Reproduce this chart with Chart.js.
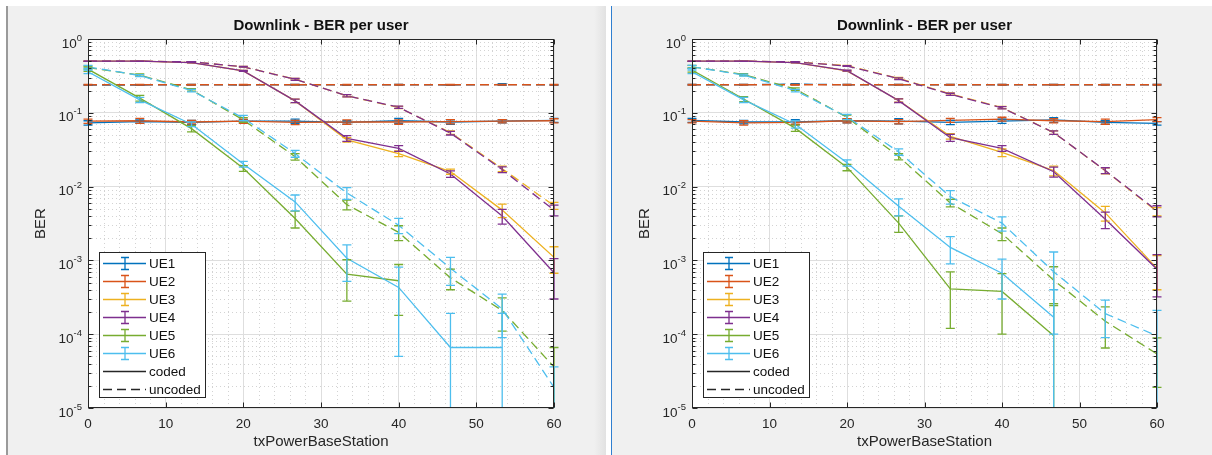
<!DOCTYPE html>
<html>
<head>
<meta charset="utf-8">
<script src="https://cdn.jsdelivr.net/npm/chart.js@4.4.1/dist/chart.umd.min.js"></script>
<style>
  body { margin: 0; width: 1212px; height: 455px; background: #fff; position: relative; overflow: hidden; }
  .panel { position: absolute; top: 6px; height: 449px; background: #f0f0f0; }
  #panelL { left: 8px; width: 598px; background: linear-gradient(to right, #f0f0f0 0, #f0f0f0 586px, #e2e2e2 598px); }
  #panelR { left: 612px; width: 600px; }
  #edgeL { position: absolute; left: 6px; top: 6px; width: 2px; height: 449px; background: #9a9a9a; }
  #sep { position: absolute; left: 611px; top: 6px; width: 1px; height: 449px; background: #2f7fd0; }
  canvas { position: absolute; top: 0; }
  #chartL { left: 0; }
  #chartR { left: 606px; }
</style>
</head>
<body>
<div class="panel" id="panelL"></div>
<div class="panel" id="panelR"></div>
<div id="edgeL"></div>
<div id="sep"></div>
<canvas id="chartL" width="606" height="455"></canvas>
<canvas id="chartR" width="606" height="455"></canvas>
<script>
// x positions (txPowerBaseStation)
const txPower = [0, 6.67, 13.33, 20, 26.67, 33.33, 40, 46.67, 53.33, 60];
const users = ['UE1', 'UE2', 'UE3', 'UE4', 'UE5', 'UE6'];
const userColors = ['#0072BD', '#D95319', '#EDB120', '#7E2F8E', '#77AC30', '#4DBEEE'];
const xTickValues = [0, 10, 20, 30, 40, 50, 60];
const yTickValues = [1e-5, 1e-4, 1e-3, 1e-2, 1e-1, 1];
const yTickBase = '10';
const yTickExponents = ['-5', '-4', '-3', '-2', '-1', '0'];
const yMinorSteps = [2, 3, 4, 5, 6, 7, 8, 9];
const xMinorValues = [2, 4, 6, 8, 12, 14, 16, 18, 22, 24, 26, 28, 32, 34, 36, 38, 42, 44, 46, 48, 52, 54, 56, 58];

// left figure - one row per user (UE1..UE6), null = BER of zero
const leftCoded = [
  [0.073, 0.076, 0.074, 0.077, 0.077, 0.074, 0.078, 0.075, 0.077, 0.079],
  [0.077, 0.078, 0.075, 0.077, 0.074, 0.075, 0.075, 0.076, 0.077, 0.078],
  [0.5, 0.5, 0.48, 0.37, 0.145, 0.043, 0.028, 0.016, 0.0048, 0.0011],
  [0.5, 0.5, 0.48, 0.37, 0.145, 0.045, 0.033, 0.0148, 0.004, 0.00068],
  [0.39, 0.158, 0.061, 0.0177, 0.0037, 0.00065, 0.00053, null, null, null],
  [0.36, 0.15, 0.07, 0.0202, 0.0062, 0.00107, 0.00043, 0.000066, 0.000066, null]
];
const leftCodedErr = [
  [0.005, 0.004, 0.005, 0.004, 0.005, 0.004, 0.006, 0.005, 0.004, 0.005],
  [0.005, 0.006, 0.004, 0.005, 0.005, 0.005, 0.005, 0.005, 0.004, 0.005],
  [0.002, 0.002, 0.003, 0.005, 0.008, 0.003, 0.0025, 0.0013, 0.001, 0.00043],
  [0.002, 0.002, 0.003, 0.005, 0.008, 0.004, 0.003, 0.0015, 0.0009, 0.00038],
  [0.025, 0.014, 0.006, 0.0016, 0.00095, 0.00037, 0.00035, null, null, null],
  [0.02, 0.012, 0.005, 0.0018, 0.0015, 0.00055, 0.00038, 0.000125, 0.000125, null]
];
const leftUncoded = [
  [0.238, 0.238, 0.24, 0.238, 0.24, 0.238, 0.24, 0.238, 0.242, 0.238],
  [0.24, 0.24, 0.24, 0.24, 0.24, 0.24, 0.24, 0.24, 0.24, 0.24],
  [0.5, 0.5, 0.49, 0.42, 0.285, 0.17, 0.118, 0.054, 0.0175, 0.0055],
  [0.5, 0.5, 0.49, 0.42, 0.284, 0.17, 0.119, 0.053, 0.017, 0.0048],
  [0.41, 0.325, 0.205, 0.08, 0.0254, 0.0057, 0.0024, 0.00058, 0.00021, 0.000036],
  [0.42, 0.32, 0.2, 0.085, 0.028, 0.0082, 0.003, 0.00078, 0.00022, 0.000019]
];
const leftUncodedErr = [
  [0.003, 0.003, 0.003, 0.003, 0.003, 0.003, 0.003, 0.003, 0.006, 0.003],
  [0.003, 0.003, 0.003, 0.003, 0.003, 0.003, 0.003, 0.003, 0.003, 0.003],
  [0.002, 0.002, 0.003, 0.005, 0.008, 0.006, 0.004, 0.003, 0.0015, 0.0006],
  [0.002, 0.002, 0.003, 0.005, 0.008, 0.006, 0.004, 0.003, 0.0015, 0.0008],
  [0.02, 0.012, 0.008, 0.006, 0.0025, 0.00085, 0.00055, 0.00018, 0.0001, 0.00003],
  [0.02, 0.01, 0.008, 0.007, 0.003, 0.0015, 0.0007, 0.00032, 0.00013, 0.000017]
];

// right figure
const rightCoded = [
  [0.079, 0.075, 0.075, 0.078, 0.077, 0.074, 0.077, 0.08, 0.074, 0.072],
  [0.077, 0.073, 0.074, 0.078, 0.076, 0.079, 0.082, 0.078, 0.076, 0.081],
  [0.5, 0.5, 0.48, 0.37, 0.147, 0.048, 0.029, 0.0165, 0.0044, 0.00078],
  [0.5, 0.5, 0.48, 0.372, 0.146, 0.046, 0.033, 0.0159, 0.0036, 0.00076],
  [0.38, 0.154, 0.062, 0.0182, 0.0032, 0.00041, 0.00038, 0.000095, null, null],
  [0.36, 0.15, 0.07, 0.021, 0.0054, 0.0015, 0.00067, 0.00017, null, null]
];
const rightCodedErr = [
  [0.005, 0.004, 0.006, 0.005, 0.006, 0.005, 0.005, 0.006, 0.004, 0.004],
  [0.004, 0.005, 0.004, 0.005, 0.005, 0.005, 0.005, 0.005, 0.006, 0.005],
  [0.002, 0.002, 0.003, 0.005, 0.008, 0.004, 0.0035, 0.0025, 0.001, 0.00038],
  [0.002, 0.002, 0.003, 0.005, 0.008, 0.005, 0.003, 0.0025, 0.0009, 0.00044],
  [0.025, 0.012, 0.006, 0.0018, 0.0008, 0.00029, 0.00028, 0.00015, null, null],
  [0.02, 0.012, 0.008, 0.002, 0.0014, 0.0006, 0.00037, 0.00023, null, null]
];
const rightUncoded = [
  [0.24, 0.24, 0.245, 0.24, 0.24, 0.24, 0.24, 0.24, 0.24, 0.24],
  [0.24, 0.24, 0.24, 0.24, 0.24, 0.24, 0.24, 0.24, 0.24, 0.24],
  [0.5, 0.5, 0.49, 0.435, 0.293, 0.18, 0.118, 0.054, 0.0164, 0.0046],
  [0.5, 0.5, 0.49, 0.43, 0.29, 0.178, 0.117, 0.054, 0.0165, 0.0047],
  [0.42, 0.33, 0.21, 0.087, 0.0255, 0.006, 0.0023, 0.00054, 0.00015, 0.000054],
  [0.42, 0.325, 0.2, 0.088, 0.0295, 0.0073, 0.0032, 0.0007, 0.00019, 0.000095]
];
const rightUncodedErr = [
  [0.003, 0.003, 0.004, 0.003, 0.003, 0.003, 0.003, 0.003, 0.003, 0.003],
  [0.003, 0.003, 0.003, 0.003, 0.003, 0.003, 0.003, 0.003, 0.003, 0.003],
  [0.002, 0.002, 0.003, 0.005, 0.008, 0.006, 0.004, 0.003, 0.0015, 0.0006],
  [0.002, 0.002, 0.003, 0.005, 0.008, 0.006, 0.004, 0.003, 0.0015, 0.0008],
  [0.02, 0.01, 0.008, 0.006, 0.0025, 0.0007, 0.00045, 0.00028, 0.000085, 0.000035],
  [0.02, 0.01, 0.008, 0.007, 0.003, 0.0015, 0.0007, 0.0006, 0.0001, 0.000115]
];

const FONT = '"Liberation Sans", Arial, Helvetica, sans-serif';
const AXIS = '#262626';
const GRID = '#dedede';
const MINOR = '#d3d3d3';
const DASH = [9, 5];

const isDecade = v => Math.abs(Math.log10(v) - Math.round(Math.log10(v))) < 1e-6;

function makeDatasets(coded, codedErr, uncoded, uncodedErr) {
  const sets = [];
  users.forEach((u, i) => {
    sets.push({
      label: u + ' coded', data: txPower.map((x, k) => ({ x, y: coded[i][k] })),
      errs: codedErr[i], borderColor: userColors[i], borderDash: []
    });
    sets.push({
      label: u + ' uncoded', data: txPower.map((x, k) => ({ x, y: uncoded[i][k] })),
      errs: uncodedErr[i], borderColor: userColors[i], borderDash: DASH
    });
  });
  // Chart.js paints dataset 0 last, so reverse to keep UE6 on top like the original
  return sets.reverse().map(s => Object.assign(s, { borderWidth: 1.3, pointRadius: 0, fill: false, tension: 0, spanGaps: false }));
}

// white plot area + dotted minor grid
const plotBack = {
  id: 'plotBack',
  beforeDraw(chart) {
    const { ctx, chartArea: a } = chart;
    ctx.save();
    ctx.fillStyle = '#fff';
    ctx.fillRect(a.left, a.top, a.right - a.left, a.bottom - a.top);
    ctx.restore();
  },
  beforeDatasetsDraw(chart) {
    const { ctx, chartArea: a, scales: { x, y } } = chart;
    ctx.save();
    ctx.strokeStyle = MINOR;
    ctx.lineWidth = 1;
    ctx.setLineDash([1, 3]);
    yTickValues.slice(0, -1).forEach(d => {
      yMinorSteps.forEach(m => {
        const py = Math.round(y.getPixelForValue(d * m)) + 0.5;
        ctx.beginPath(); ctx.moveTo(a.left, py); ctx.lineTo(a.right, py); ctx.stroke();
      });
    });
    xMinorValues.forEach(v => {
      const px = Math.round(x.getPixelForValue(v)) + 0.5;
      ctx.beginPath(); ctx.moveTo(px, a.top); ctx.lineTo(px, a.bottom); ctx.stroke();
    });
    ctx.restore();
  }
};

const errorBars = {
  id: 'errorBars',
  afterDatasetsDraw(chart) {
    const { ctx, chartArea: a, scales: { x, y } } = chart;
    ctx.save();
    ctx.beginPath();
    ctx.rect(a.left - 10, a.top, a.right - a.left + 20, a.bottom - a.top);
    ctx.clip();
    ctx.setLineDash([]);
    chart.data.datasets.slice().reverse().forEach(ds => {
      ctx.strokeStyle = ds.borderColor;
      ctx.lineWidth = 1.3;
      ds.data.forEach((p, i) => {
        const e = ds.errs[i];
        if (p.y == null || e == null) return;
        const px = x.getPixelForValue(p.x);
        const hi = y.getPixelForValue(p.y + e);
        const hasLo = p.y - e > 0;
        const lo = hasLo ? y.getPixelForValue(p.y - e) : a.bottom + 5;
        ctx.beginPath();
        ctx.moveTo(px, hi); ctx.lineTo(px, lo);
        ctx.moveTo(px - 4.5, hi); ctx.lineTo(px + 4.5, hi);
        if (hasLo) { ctx.moveTo(px - 4.5, lo); ctx.lineTo(px + 4.5, lo); }
        ctx.stroke();
      });
    });
    ctx.restore();
  }
};

// axes box with inward ticks and 10^n labels like the original figure
const frame = {
  id: 'frame',
  afterDatasetsDraw(chart) {
    const { ctx, chartArea: a, scales: { x, y } } = chart;
    ctx.save();
    ctx.strokeStyle = AXIS;
    ctx.lineWidth = 1;
    ctx.setLineDash([]);
    const L = Math.round(a.left) + 0.5, R = Math.round(a.right) - 0.5;
    const T = Math.round(a.top) + 0.5, B = Math.round(a.bottom) - 0.5;
    ctx.strokeRect(L, T, R - L, B - T);
    ctx.beginPath();
    xTickValues.forEach(v => {
      const px = Math.round(x.getPixelForValue(v)) + 0.5;
      ctx.moveTo(px, B); ctx.lineTo(px, B - 5);
      ctx.moveTo(px, T); ctx.lineTo(px, T + 5);
    });
    yTickValues.forEach(d => {
      const py = Math.round(y.getPixelForValue(d)) + 0.5;
      ctx.moveTo(L, py); ctx.lineTo(L + 5, py);
      ctx.moveTo(R, py); ctx.lineTo(R - 5, py);
      if (d < 1) {
        yMinorSteps.forEach(m => {
          const pm = Math.round(y.getPixelForValue(d * m)) + 0.5;
          ctx.moveTo(L, pm); ctx.lineTo(L + 3, pm);
          ctx.moveTo(R, pm); ctx.lineTo(R - 3, pm);
        });
      }
    });
    ctx.stroke();

    // y tick labels: base + raised exponent
    ctx.fillStyle = AXIS;
    ctx.textBaseline = 'alphabetic';
    ctx.textAlign = 'right';
    yTickValues.forEach((d, i) => {
      const py = y.getPixelForValue(d);
      const right = a.left - 6;
      ctx.font = '9.5px ' + FONT;
      const ew = ctx.measureText(yTickExponents[i]).width;
      ctx.fillText(yTickExponents[i], right, py + 1.5);
      ctx.font = '13.5px ' + FONT;
      ctx.fillText(yTickBase, right - ew, py + 8.5);
    });
    ctx.restore();
  }
};

const legendBox = {
  id: 'legendBox',
  afterDraw(chart) {
    const { ctx, chartArea: a } = chart;
    const w = 106, h = 145;
    const bx = Math.round(a.left) + 11, by = Math.round(a.bottom) - 11 - h;
    ctx.save();
    ctx.fillStyle = '#fff';
    ctx.fillRect(bx, by, w, h);
    ctx.strokeStyle = AXIS;
    ctx.lineWidth = 1;
    ctx.setLineDash([]);
    ctx.strokeRect(bx + 0.5, by + 0.5, w, h);
    const entries = users.map((u, i) => ({ label: u, color: userColors[i], bar: true, dash: [] }))
      .concat([{ label: 'coded', color: AXIS, dash: [] }, { label: 'uncoded', color: AXIS, dash: DASH }]);
    ctx.font = '13.5px ' + FONT;
    ctx.textBaseline = 'middle';
    entries.forEach((e, i) => {
      const yy = Math.round(by + 11 + i * 17.95) + 0.5;
      ctx.strokeStyle = e.color;
      ctx.lineWidth = 1.3;
      ctx.setLineDash(e.dash);
      ctx.beginPath(); ctx.moveTo(bx + 4, yy); ctx.lineTo(bx + 47, yy); ctx.stroke();
      if (e.bar) {
        const cx = bx + 26;
        ctx.setLineDash([]);
        ctx.beginPath();
        ctx.moveTo(cx, yy - 6); ctx.lineTo(cx, yy + 6);
        ctx.moveTo(cx - 4, yy - 6); ctx.lineTo(cx + 4, yy - 6);
        ctx.moveTo(cx - 4, yy + 6); ctx.lineTo(cx + 4, yy + 6);
        ctx.stroke();
      }
      ctx.fillStyle = '#111';
      ctx.fillText(e.label, bx + 50, yy + 0.5);
    });
    ctx.restore();
  }
};

function makeChart(id, datasets, yWidth, padRight, yTitlePad) {
  return new Chart(document.getElementById(id), {
    type: 'line',
    data: { datasets },
    plugins: [plotBack, errorBars, frame, legendBox],
    options: {
      responsive: false,
      devicePixelRatio: 1,
      animation: false,
      layout: { padding: { left: 0, right: padRight, top: 0, bottom: 0 }, autoPadding: false },
      plugins: {
        legend: { display: false },
        tooltip: { enabled: false },
        title: {
          display: true, text: 'Downlink - BER per user', fullSize: false,
          color: '#111', font: { family: FONT, size: 15, weight: 'bold' },
          padding: { top: 17, bottom: 4 }
        }
      },
      scales: {
        x: {
          type: 'linear', min: 0, max: 60,
          afterFit: s => { s.height = 47; },
          border: { display: false },
          grid: { color: GRID, drawTicks: false },
          ticks: { stepSize: 10, padding: 8, color: AXIS, font: { family: FONT, size: 13.5 } },
          title: { display: true, text: 'txPowerBaseStation', color: AXIS, font: { family: FONT, size: 15 }, padding: { top: 0, bottom: 4 } }
        },
        y: {
          type: 'logarithmic', min: 1e-5, max: 1,
          afterFit: s => { s.width = yWidth; },
          border: { display: false },
          grid: { drawTicks: false, color: c => (c.tick && isDecade(c.tick.value)) ? GRID : 'rgba(0,0,0,0)' },
          ticks: { display: false, autoSkip: false },
          title: { display: true, text: 'BER', color: AXIS, font: { family: FONT, size: 15 }, padding: { top: yTitlePad, bottom: 0 } }
        }
      }
    }
  });
}

makeChart('chartL', makeDatasets(leftCoded, leftCodedErr, leftUncoded, leftUncodedErr), 88, 52, 32);
makeChart('chartR', makeDatasets(rightCoded, rightCodedErr, rightUncoded, rightUncodedErr), 86, 55, 30);
</script>
</body>
</html>
